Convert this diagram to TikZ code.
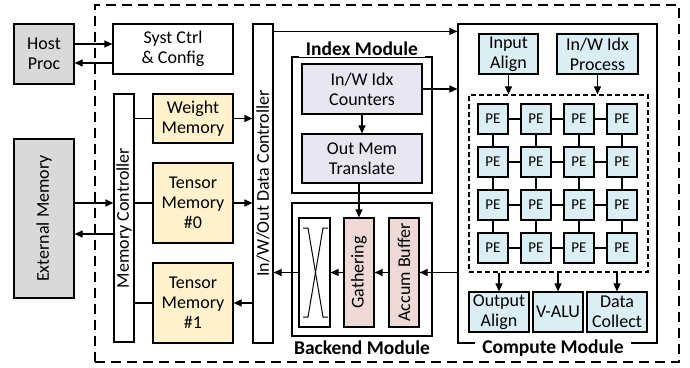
\documentclass[tikz,border=0pt]{standalone}
\usepackage{fontspec}
\setmainfont{Carlito}
\usetikzlibrary{arrows.meta}
\definecolor{hostgray}{HTML}{D9D9D9}
\definecolor{memyellow}{HTML}{FFF2CC}
\definecolor{idxlav}{HTML}{E8E6F0}
\definecolor{bkpink}{HTML}{EFD9D6}
\definecolor{peblue}{HTML}{DAEEF3}
\tikzset{
  box/.style={draw, line width=1.2pt, inner sep=0pt, align=center,
    font=\fontsize{18}{20}\selectfont},
  hostbox/.style={box, fill=hostgray},
  membox/.style={box, fill=memyellow},
  idxbox/.style={box, fill=idxlav},
  bkbox/.style={box, fill=bkpink},
  cmpbox/.style={box, fill=peblue},
  pebox/.style={box, fill=peblue, minimum width=30pt, minimum height=30pt,
    font=\fontsize{15}{16}\selectfont},
  vtext/.style={rotate=90, font=\fontsize{18}{20}\selectfont},
  modlabel/.style={font=\bfseries\fontsize{19.5}{21}\selectfont, fill=white,
    inner xsep=7pt, inner ysep=1pt},
  arr/.style={line width=1.2pt, -{Triangle[length=8pt,width=7pt]}},
  link/.style={line width=1.2pt},
}
\begin{document}
\begin{tikzpicture}[x=1pt,y=-1pt]
\useasboundingbox (0,0) rectangle (690,367);

% chip boundary
\node[draw, line width=1.2pt, dash pattern=on 10pt off 6pt, minimum width=584pt,
  minimum height=357pt, inner sep=0pt] (chip) at (387,183.5) {};

% host side
\node[hostbox, minimum width=60pt, minimum height=60pt] (hp) at (44,54) {Host\\Proc};
\node[box, minimum width=120pt, minimum height=50pt] (sc) at (173,49) {Syst Ctrl\\\& Config};
\node[hostbox, minimum width=60pt, minimum height=159pt] (em) at (44,218.5) {};
\node[vtext] (emtxt) at (em) {External Memory};

% memory controller and memories
\node[box, minimum width=20pt, minimum height=248pt] (mc) at (124,218) {};
\node[vtext] (mctxt) at (mc) {Memory Controller};
\node[membox, minimum width=80pt, minimum height=49pt] (wm) at (193,118.5) {Weight\\Memory};
\node[membox, minimum width=80pt, minimum height=80pt] (t0) at (193,203) {Tensor\\Memory\\\#0};
\node[membox, minimum width=80pt, minimum height=80pt] (t1) at (193,303) {Tensor\\Memory\\\#1};

% in/w/out data controller
\node[box, minimum width=20pt, minimum height=319pt] (io) at (263,183.5) {};
\node[vtext] (iotxt) at (io) {In/W/Out Data Controller};

% index module
\node[draw, line width=1.2pt, minimum width=140pt, minimum height=136pt, inner sep=0pt] (im) at (362,125) {};
\node[modlabel] (imlab) at (362,49) {Index Module};
\node[idxbox, minimum width=120pt, minimum height=50pt] (ct) at (362,89) {In/W Idx\\Counters};
\node[idxbox, minimum width=120pt, minimum height=49pt] (tr) at (362,158.5) {Out Mem\\Translate};

% backend module
\node[draw, line width=1.2pt, minimum width=140pt, minimum height=133pt, inner sep=0pt] (bm) at (362,269.5) {};
\node[font=\bfseries\fontsize{19.5}{21}\selectfont] (bmlab) at (362,348) {Backend Module};
\node[box, minimum width=31pt, minimum height=109pt] (cb) at (314.5,272.5) {};
\draw[link, line width=1pt] (303,228) -- (308,228) -- (323,317) -- (328,317);
\draw[link, line width=1pt] (328,228) -- (323,228) -- (308,317) -- (303,317);
\node[bkbox, minimum width=30pt, minimum height=109pt] (ga) at (359,272.5) {};
\node[vtext] (gatxt) at (ga) {Gathering};
\node[bkbox, minimum width=30pt, minimum height=109pt] (ac) at (404,272.5) {};
\node[vtext] (actxt) at (ac) {Accum Buffer};

% compute module
\node[draw, line width=1.2pt, minimum width=199pt, minimum height=319pt, inner sep=0pt] (cm) at (557.5,183.5) {};
\node[modlabel] (cmlab) at (553,348) {Compute Module};
\node[cmpbox, minimum width=59pt, minimum height=40pt] (ia) at (508.5,54) {Input\\Align};
\node[cmpbox, minimum width=81pt, minimum height=40pt] (ip) at (597.5,54) {In/W Idx\\Process};
\node[draw, line width=1.2pt, dash pattern=on 5pt off 3pt, minimum width=179pt,
  minimum height=177pt, inner sep=0pt] (pa) at (558.5,183.5) {};
\foreach \r/\y in {1/119,2/162,3/205,4/248}
  \foreach \c/\x in {1/493,2/536,3/579,4/622}
    \node[pebox] (pe-\r-\c) at (\x,\y) {PE};
\foreach \r in {1,...,4}
  \foreach \c/\n in {1/2,2/3,3/4}
    \draw[link] (pe-\r-\c) -- (pe-\r-\n);
\foreach \c in {1,...,4}
  \foreach \r/\n in {1/2,2/3,3/4}
    \draw[link] (pe-\r-\c) -- (pe-\n-\c);
\node[cmpbox, minimum width=60pt, minimum height=40pt] (oa) at (499,312) {Output\\Align};
\node[cmpbox, minimum width=50pt, minimum height=40pt] (va) at (558,312) {V-ALU};
\node[cmpbox, minimum width=60pt, minimum height=40pt] (dc) at (617,312) {Data\\Collect};

% connectors
\draw[arr] ([yshift=10pt]hp.east) -- ([yshift=10pt]hp.east -| sc.west);
\draw[arr] ([yshift=-9pt]hp.east -| sc.west) -- ([yshift=-9pt]hp.east);
\draw[arr] ([yshift=15.5pt]em.east) -- ([yshift=15.5pt]em.east -| mc.west);
\draw[arr] ([yshift=-15.5pt]em.east -| mc.west) -- ([yshift=-15.5pt]em.east);
\draw[link] (mc.east |- wm) -- (wm.west);
\draw[link] (mc.east |- t0) -- (t0.west);
\draw[link] (mc.east |- t1) -- (t1.west);
\draw[arr] (wm.east) -- (wm.east -| io.west);
\draw[arr] (t0.east) -- (t0.east -| io.west);
\draw[arr] (t1.east -| io.west) -- (t1.east);
\draw[arr] ([yshift=-8pt]io.north east) -- ([yshift=-8pt]io.north east -| cm.west);
\draw[arr] (ct.east) -- (ct.east -| cm.west);
\draw[arr] (ct.south) -- (tr.north);
\draw[arr] (ga.north |- tr.south) -- (ga.north);
\draw[arr] (ac.east -| cm.west) -- (ac.east);
\draw[arr] (ac.west) -- (ga.east);
\draw[arr] (ga.west) -- (cb.east);
\draw[arr] (cb.west) -- (cb.west -| io.east);
\draw[arr] (ia.south) -- (ia.south |- pa.north);
\draw[arr] (ip.south) -- (ip.south |- pa.north);
\draw[arr] (oa.north |- pa.south) -- (oa.north);
\draw[arr] (va.north |- pa.south) -- (va.north);
\draw[arr] (dc.north |- pa.south) -- (dc.north);
\end{tikzpicture}
\end{document}
